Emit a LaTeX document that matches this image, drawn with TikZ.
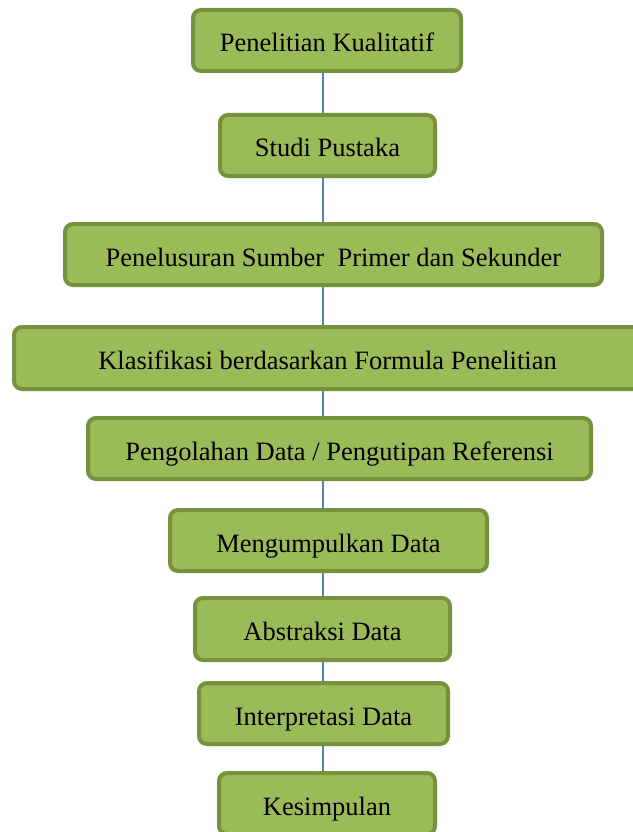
\documentclass[tikz,border=0pt]{standalone}
\usepackage{fontspec}
\setmainfont{Liberation Serif}
\usetikzlibrary{backgrounds}
\definecolor{boxfill}{HTML}{9BBB59}
\definecolor{boxline}{HTML}{76923C}
\definecolor{linkblue}{HTML}{4F81BD}
\begin{document}
\begin{tikzpicture}[x=1pt,y=-1pt,
  stepbox/.style={draw=boxline, fill=boxfill, line width=4pt, rounded corners=8pt,
    inner sep=0pt, minimum height=61pt, text height=23pt, text depth=0pt,
    font=\fontsize{26.5}{30}\selectfont},
  link/.style={draw=linkblue, line width=1.5pt}]
\useasboundingbox (0,0) rectangle (632,832);
\coordinate (spine) at (323,0);
\node[stepbox, minimum width=268pt] (n1) at (327,40.5) {Penelitian Kualitatif};
\node[stepbox, minimum width=215pt] (n2) at (327.5,145.5) {Studi Pustaka};
\node[stepbox, minimum width=537pt] (n3) at (333.5,254.5) {Penelusuran Sumber\ \ Primer dan Sekunder};
\node[stepbox, minimum width=627pt, minimum height=62pt] (n4) at (327.5,358) {Klasifikasi berdasarkan Formula Penelitian};
\node[stepbox, minimum width=503pt] (n5) at (339.5,448.5) {Pengolahan Data / Pengutipan Referensi};
\node[stepbox, minimum width=317pt] (n6) at (328.5,540.5) {Mengumpulkan Data};
\node[stepbox, minimum width=255pt, minimum height=62pt] (n7) at (322.5,629) {Abstraksi Data};
\node[stepbox, minimum width=249pt] (n8) at (323.5,713.5) {Interpretasi Data};
\node[stepbox, minimum width=216pt] (n9) at (327,803.5) {Kesimpulan};
\begin{scope}[on background layer]
\foreach \a/\b in {n1/n2,n2/n3,n3/n4,n4/n5,n5/n6,n6/n7,n7/n8,n8/n9}
  \draw[link] (\a.south -| spine) -- (\b.north -| spine);
\end{scope}
\end{tikzpicture}
\end{document}
